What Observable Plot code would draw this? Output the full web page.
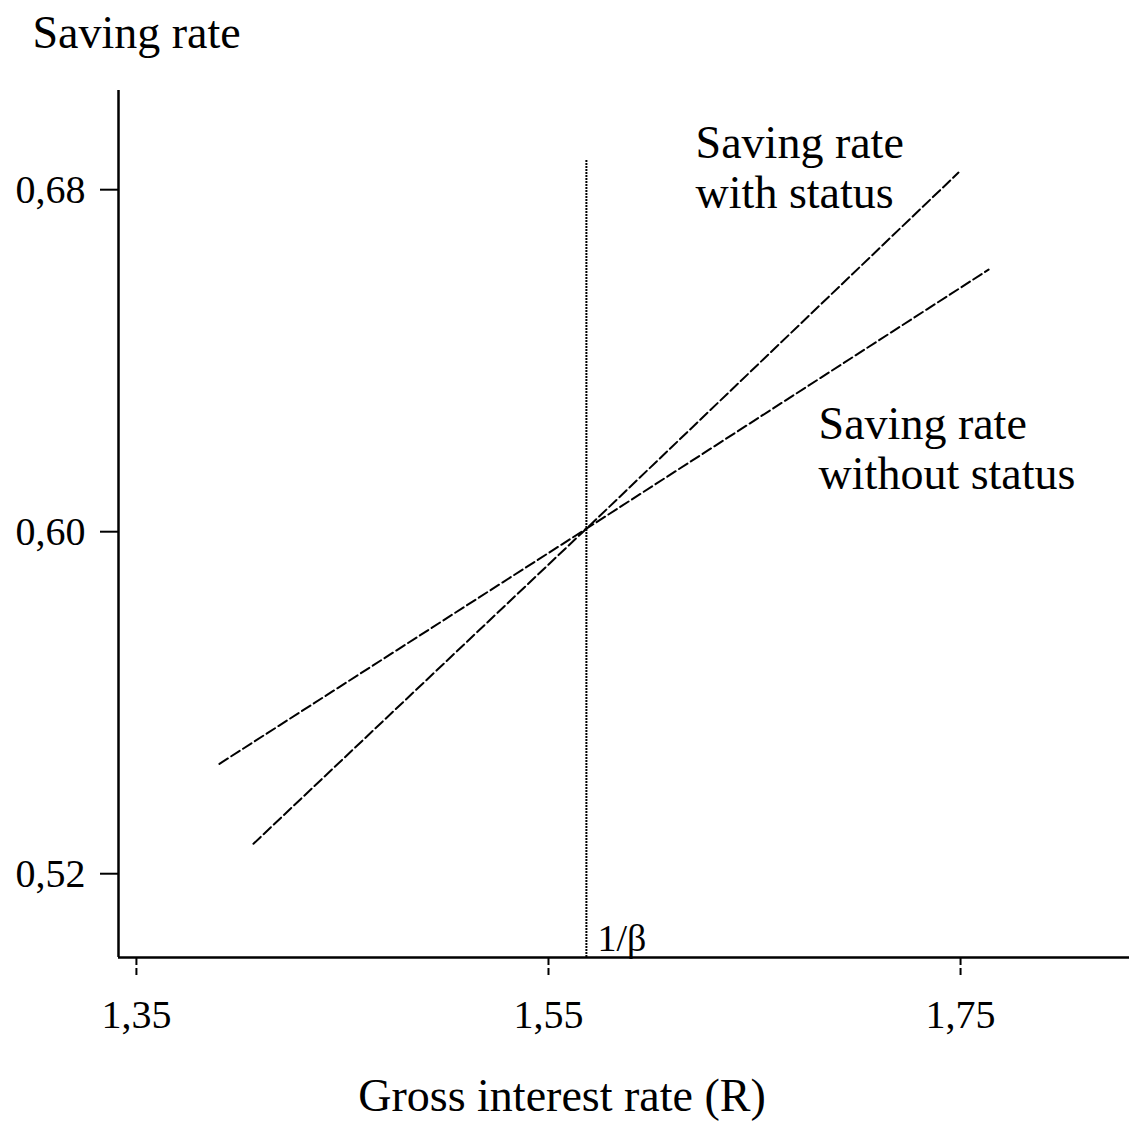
<!DOCTYPE html>
<html>
<head>
<meta charset="utf-8">
<script src="https://cdn.jsdelivr.net/npm/d3@7"></script>
<script src="https://cdn.jsdelivr.net/npm/@observablehq/plot@0.6"></script>
<style>
  html, body { margin: 0; padding: 0; background: #fff; }
  #chart svg { display: block; }
</style>
</head>
<body>
<div id="chart"></div>
<script>
// ---- data ----
const xTicks = [1.35, 1.55, 1.75];
const yTicks = [0.52, 0.60, 0.68];
const betaR = 1.5684;            // 1/β
const betaTop = 0.6861;

const R_with = [1.4068, 1.5684, 1.7490];
const S_with = [0.5263, 0.6000, 0.6833];
const R_without = [1.3903, 1.5684, 1.7636];
const S_without = [0.5450, 0.6000, 0.6606];

const labelText = ["Saving rate\nwith status", "Saving rate\nwithout status"];
const labelR = [1.6214, 1.6811];
const labelS = [0.6751, 0.6094];

const xDomain = [1.3413, 1.8320];
const yDomain = [0.4997, 0.7025];

// ---- tables ----
const lines = [
  ...R_with.map((r, i) => ({series: "with", R: r, S: S_with[i]})),
  ...R_without.map((r, i) => ({series: "without", R: r, S: S_without[i]}))
];
const labels = labelText.map((t, i) => ({text: t, R: labelR[i], S: labelS[i]}));

const fmt = d => d3.format(".2f")(d).replace(".", ",");
const font = "'Liberation Serif', 'Times New Roman', serif";

const chart = Plot.plot({
  width: 1129,
  height: 1124,
  marginLeft: 118,
  marginRight: 0,
  marginTop: 90,
  marginBottom: 167,
  style: {fontFamily: font, fontSize: "40px", color: "#000", background: "#fff"},
  x: {domain: xDomain},
  y: {domain: yDomain},
  marks: [
    Plot.axisY({ticks: yTicks, tickFormat: fmt, tickSize: 18, tickPadding: 15, fontSize: 40, dy: 3, label: null, strokeWidth: 2}),
    Plot.axisX({ticks: xTicks, tickFormat: fmt, tickSize: 18, tickPadding: 24, fontSize: 40, label: null, strokeWidth: 2, strokeDasharray: "8,3"}),
    Plot.ruleX([xDomain[0]], {stroke: "#000", strokeWidth: 2.5}),
    Plot.ruleY([yDomain[0]], {stroke: "#000", strokeWidth: 2.5}),
    Plot.ruleX([betaR], {y1: yDomain[0], y2: betaTop, stroke: "#000", strokeWidth: 2, strokeDasharray: "2,1"}),
    Plot.line(lines, {x: "R", y: "S", z: "series", stroke: "#000", strokeWidth: 2, strokeDasharray: "10,4"}),
    Plot.text(labels, {x: "R", y: "S", text: "text", textAnchor: "start", lineAnchor: "bottom", lineHeight: 1.087, fontSize: 46, fill: "#000"}),
    Plot.text(["1/β"], {x: [betaR], frameAnchor: "bottom", textAnchor: "start", lineAnchor: "bottom", dx: 11, dy: -7, fontSize: 38, fill: "#000"}),
    Plot.text(["Saving rate"], {frameAnchor: "top-left", textAnchor: "start", lineAnchor: "bottom", dx: -86, dy: -43, fontSize: 46, fill: "#000"}),
    Plot.text(["Gross interest rate (R)"], {frameAnchor: "bottom", textAnchor: "middle", lineAnchor: "bottom", dx: -62, dy: 153, fontSize: 46, fill: "#000"})
  ]
});
document.getElementById("chart").appendChild(chart);
</script>
</body>
</html>
